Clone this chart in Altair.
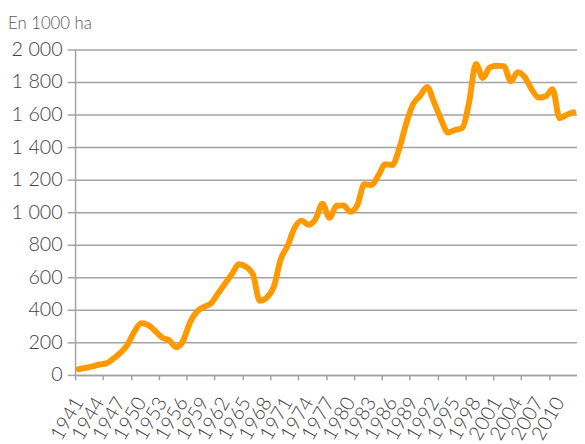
import altair as alt
import pandas as pd

title_text = "En 1000 ha"
years = list(range(1941, 2013))
values = [
    35, 43, 53, 64, 71, 100, 135, 185, 265, 318,          # 1941-1950
    306, 270, 229, 213, 170, 210, 323, 390, 418, 440,      # 1951-1960
    500, 560, 620, 680, 665, 620, 455, 475, 540, 710,      # 1961-1970
    795, 905, 948, 923, 958, 1052, 965, 1040, 1042, 1002,  # 1971-1980
    1045, 1172, 1167, 1225, 1295, 1290, 1390, 1545, 1665, 1715,  # 1981-1990
    1770, 1675, 1570, 1490, 1505, 1516, 1670, 1911, 1825, 1890,  # 1991-2000
    1900, 1898, 1805, 1861, 1830, 1755, 1705, 1712, 1756, 1578,  # 2001-2010
    1598, 1614,                                            # 2011-2012
]
label_years = list(range(1941, 2011, 3))
tick_bounds = [1940.5 + 4 * i for i in range(18)]
y_ticks = list(range(0, 2001, 200))

df = pd.DataFrame({"year": years, "value": values})
title_df = pd.DataFrame({"t": [title_text]})

FONT = "Lato"
GRID = "#a3a3a3"
TEXT = "#3f3f3f"

x_axis = alt.Axis(
    values=sorted(label_years + tick_bounds),
    format="d",
    labelExpr="datum.value % 1 == 0 ? datum.label : ''",
    labelAngle=-60,
    labelAlign="right",
    labelBaseline="middle",
    labelFont=FONT,
    labelFontSize=20,
    labelFontWeight=300,
    labelColor=TEXT,
    labelPadding=19,
    labelOverlap=False,
    labelFlush=False,
    tickOpacity={"condition": {"test": "datum.value % 1 == 0", "value": 0}, "value": 1},
    tickColor=GRID,
    tickSize=5,
    tickWidth=1.5,
    domainColor=GRID,
    domainWidth=1.5,
    grid=False,
    title=None,
)

y_axis = alt.Axis(
    values=y_ticks,
    labelExpr="replace(format(datum.value, ','), ',', ' ')",
    labelFont=FONT,
    labelFontSize=20,
    labelFontWeight=300,
    labelColor=TEXT,
    labelPadding=5,
    tickColor=GRID,
    tickSize=8,
    tickWidth=1.5,
    domainColor=GRID,
    domainWidth=1.5,
    gridColor=GRID,
    gridWidth=1.5,
    title=None,
)

line = (
    alt.Chart(df)
    .mark_line(color="#ff9900", strokeWidth=6, interpolate="monotone",
               strokeCap="round", strokeJoin="round")
    .encode(
        x=alt.X("year:Q", scale=alt.Scale(domain=[1940.5, 2012.5], nice=False, zero=False), axis=x_axis),
        y=alt.Y("value:Q", scale=alt.Scale(domain=[0, 2000], nice=False), axis=y_axis),
    )
)

title = (
    alt.Chart(title_df)
    .mark_text(align="left", baseline="alphabetic", font=FONT, fontSize=17,
               fontWeight=300, color="#595959")
    .encode(text="t:N", x=alt.value(-68), y=alt.value(-21))
)

chart = (
    alt.layer(line, title)
    .properties(
        width=509,
        height=330,
        autosize=alt.AutoSizeParams(type="none"),
        padding={"left": 68, "top": 39, "right": 0, "bottom": 67},
    )
    .configure_view(stroke=None)
)

chart.save("out.html", embed_options={"renderer": "svg", "actions": False})
